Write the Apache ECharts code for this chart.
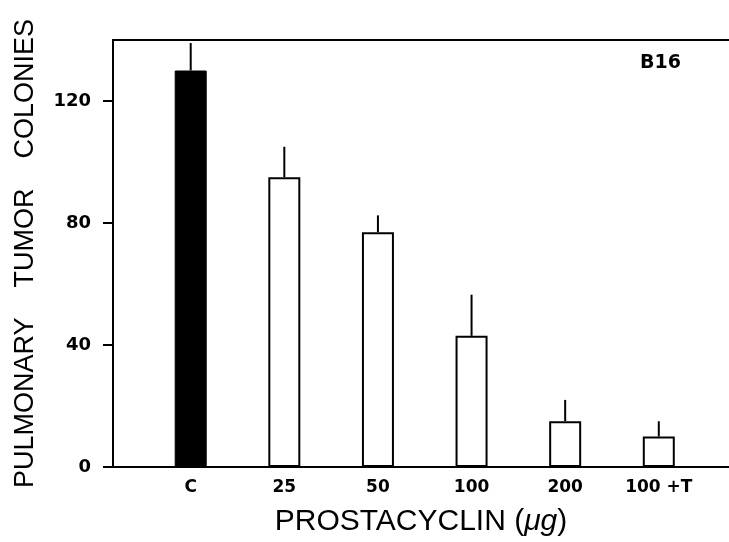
<!DOCTYPE html>
<html>
<head>
<meta charset="utf-8">
<script src="https://cdn.jsdelivr.net/npm/echarts@6/dist/echarts.min.js"></script>
<style>
  html, body { margin: 0; padding: 0; background: #fff; }
  #chart { width: 729px; height: 542px; }
</style>
</head>
<body>
<div id="chart"></div>
<script>
// 数据
const categories = ['C', '25', '50', '100', '200', '100 +T']
const positions = [1, 2, 3, 4, 5, 6]
const colonies = [130, 95, 77, 43, 15, 10]
const errorTops = [139, 105, 82.5, 56.5, 22, 15]
const yTicks = [0, 40, 80, 120]

const chart = echarts.init(document.getElementById('chart'))
const font = 'Liberation Sans'
const tickFont = 'DejaVu Sans'

const barData = positions.map((p, i) => ({
  value: [p, colonies[i]],
  itemStyle: i === 0
    ? { color: '#000', borderColor: '#000', borderWidth: 1 }
    : { color: '#fff', borderColor: '#000', borderWidth: 2 }
}))

const errData = positions.map((p, i) => [p, colonies[i], errorTops[i]])

chart.setOption({
  animation: false,
  backgroundColor: '#fff',
  title: {
    text: 'B16',
    left: 640,
    top: 54,
    textStyle: { fontFamily: tickFont, fontSize: 19, fontWeight: 'bold', color: '#000' },
    padding: 0
  },
  grid: { left: 113, right: 0, top: 40, bottom: 73 },
  xAxis: [{
    type: 'value',
    min: 0.17,
    max: 6.75,
    position: 'bottom',
    axisLine: { show: true, onZero: false, lineStyle: { color: '#000', width: 2 } },
    axisTick: { show: false },
    splitLine: { show: false },
    axisLabel: {
      customValues: positions,
      formatter: v => categories[Math.round(v) - 1] || '',
      margin: 12,
      color: '#000',
      fontFamily: tickFont,
      fontSize: 17,
      fontWeight: 'bold'
    },
    name: 'PROSTACYCLIN ({it|μg})',
    nameLocation: 'middle',
    nameGap: 40,
    nameTextStyle: {
      fontFamily: font,
      fontSize: 30,
      color: '#000',
      rich: {
        it: { fontFamily: font, fontSize: 30, fontStyle: 'italic', color: '#000' }
      }
    }
  }, {
    type: 'value',
    min: 0.17,
    max: 6.75,
    position: 'top',
    axisLine: { show: true, onZero: false, lineStyle: { color: '#000', width: 2 } },
    axisTick: { show: false },
    axisLabel: { show: false },
    splitLine: { show: false }
  }],
  yAxis: {
    type: 'value',
    min: 0,
    max: 140,
    axisLine: { show: true, lineStyle: { color: '#000', width: 2 } },
    axisTick: { show: true, customValues: yTicks, length: 10, lineStyle: { color: '#000', width: 2 } },
    splitLine: { show: false },
    axisLabel: {
      customValues: yTicks,
      margin: 22,
      color: '#000',
      fontFamily: tickFont,
      fontSize: 18,
      fontWeight: 'bold'
    },
    name: 'PULMONARY    TUMOR    COLONIES',
    nameLocation: 'middle',
    nameGap: 74,
    nameTextStyle: { fontFamily: font, fontSize: 27, color: '#000' }
  },
  series: [{
    type: 'bar',
    xAxisIndex: 0,
    barWidth: 32,
    data: barData
  }, {
    type: 'custom',
    xAxisIndex: 0,
    data: errData,
    renderItem: (params, api) => {
      const from = api.coord([api.value(0), api.value(1)])
      const to = api.coord([api.value(0), api.value(2)])
      return {
        type: 'line',
        shape: { x1: from[0], y1: from[1], x2: to[0], y2: to[1] },
        style: { stroke: '#000', lineWidth: 2 }
      }
    },
    z: 1
  }]
})
</script>
</body>
</html>
